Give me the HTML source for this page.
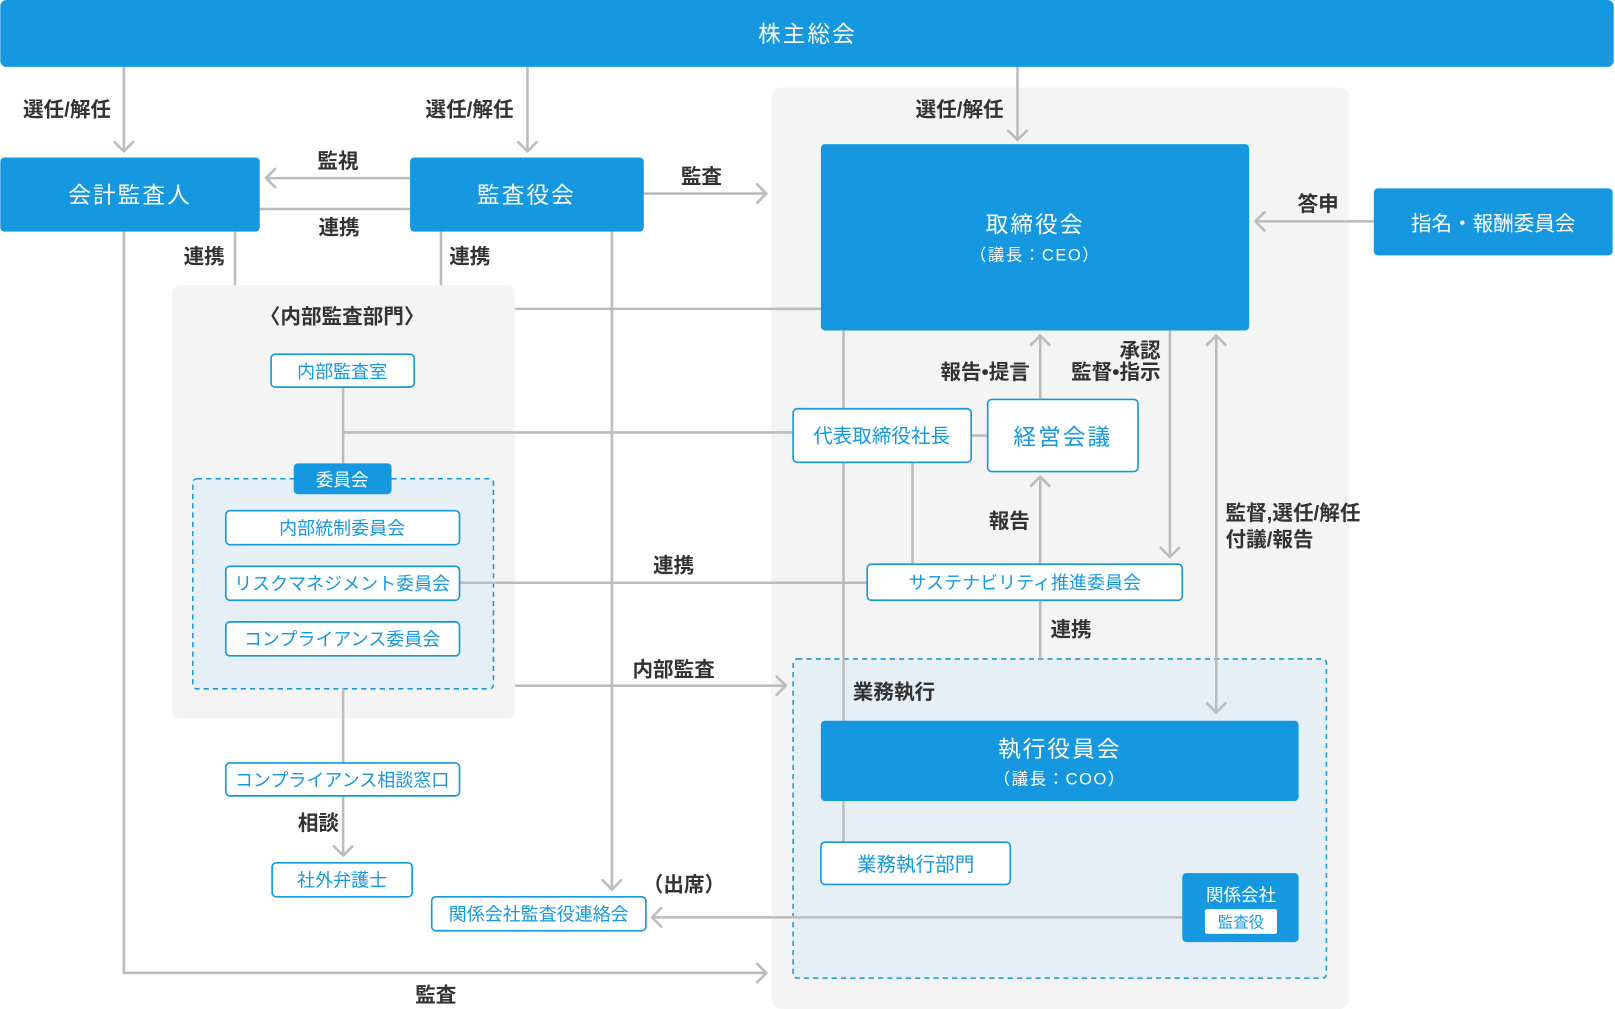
<!DOCTYPE html>
<html><head><meta charset="utf-8"><style>
html,body{margin:0;padding:0;background:#fff;}
svg{display:block;}
text{font-family:"Liberation Sans","Noto Sans CJK JP",sans-serif;}
.lb{fill:#333;font-size:20px;font-weight:bold;}
.w{fill:#fff;}
.bt{fill:#1598df;}
.ln{stroke:#bcbcbc;stroke-width:2.5;fill:none;}
.ar{stroke:#bcbcbc;stroke-width:2.5;fill:none;stroke-linecap:round;stroke-linejoin:round;}
.wb{fill:#fff;stroke:#1598df;stroke-width:1.6;}
</style></head><body>
<svg width="1615" height="1009" viewBox="0 0 1568 980" xmlns="http://www.w3.org/2000/svg">
<rect x="749" y="85" width="561" height="895" rx="10" fill="#f4f4f4"/>
<rect x="167" y="277" width="333" height="421" rx="8" fill="#f4f4f4"/>
<rect x="187" y="465" width="292" height="204" rx="4" fill="#e7eff6" stroke="#1598df" stroke-width="1.5" stroke-dasharray="5,4"/>
<rect x="770" y="640" width="518" height="310" rx="4" fill="#e7eff6" stroke="#1598df" stroke-width="1.5" stroke-dasharray="5,4"/>

<g class="ln">
<line x1="120" y1="65" x2="120" y2="147"/>
<line x1="512" y1="65" x2="512" y2="147"/>
<line x1="988" y1="65" x2="988" y2="136"/>
<line x1="398" y1="173" x2="258" y2="173"/>
<line x1="252" y1="203" x2="398" y2="203"/>
<line x1="625" y1="188" x2="744" y2="188"/>
<line x1="1334" y1="215" x2="1219" y2="215"/>
<line x1="228" y1="225" x2="228" y2="277"/>
<line x1="428" y1="225" x2="428" y2="277"/>
<line x1="500" y1="300" x2="797" y2="300"/>
<line x1="594" y1="225" x2="594" y2="864"/>
<line x1="819" y1="321" x2="819" y2="818"/>
<line x1="333" y1="376" x2="333" y2="450"/>
<line x1="333" y1="420" x2="770" y2="420"/>
<line x1="943" y1="423" x2="959" y2="423"/>
<line x1="1010" y1="388" x2="1010" y2="326"/>
<line x1="1136" y1="321" x2="1136" y2="541"/>
<line x1="1181" y1="326" x2="1181" y2="692"/>
<line x1="886" y1="449" x2="886" y2="548"/>
<line x1="1010" y1="548" x2="1010" y2="463"/>
<line x1="1010" y1="583" x2="1010" y2="640"/>
<line x1="446" y1="566" x2="842" y2="566"/>
<line x1="500" y1="666" x2="763" y2="666"/>
<line x1="333" y1="669" x2="333" y2="741"/>
<line x1="333" y1="773" x2="333" y2="831"/>
<line x1="1148" y1="891" x2="633" y2="891"/>
<polyline points="120,225 120,945 744,945"/>
</g>
<g class="ar">
<polyline points="111,138 120,147 129,138"/>
<polyline points="503,138 512,147 521,138"/>
<polyline points="979,127 988,136 997,127"/>
<polyline points="267,164 258,173 267,182"/>
<polyline points="735,179 744,188 735,197"/>
<polyline points="1228,206 1219,215 1228,224"/>
<polyline points="585,855 594,864 603,855"/>
<polyline points="1001,335 1010,326 1019,335"/>
<polyline points="1127,532 1136,541 1145,532"/>
<polyline points="1172,335 1181,326 1190,335"/>
<polyline points="1172,683 1181,692 1190,683"/>
<polyline points="1001,472 1010,463 1019,472"/>
<polyline points="754,657 763,666 754,675"/>
<polyline points="324,822 333,831 342,822"/>
<polyline points="642,882 633,891 642,900"/>
<polyline points="735,936 744,945 735,954"/>
</g>

<rect x="0" y="0" width="1567" height="65" rx="6" class="bt"/>
<text x="784" y="41" text-anchor="middle" class="w" font-size="22" letter-spacing="2">株主総会</text>
<rect x="0" y="153" width="252" height="72" rx="4" class="bt"/>
<text x="126" y="197" text-anchor="middle" class="w" font-size="22" letter-spacing="2">会計監査人</text>
<rect x="398" y="153" width="227" height="72" rx="4" class="bt"/>
<text x="511" y="197" text-anchor="middle" class="w" font-size="22" letter-spacing="2">監査役会</text>
<rect x="797" y="140" width="416" height="181" rx="4" class="bt"/>
<text x="1005" y="226" text-anchor="middle" class="w" font-size="22" letter-spacing="2">取締役会</text>
<text x="1005" y="253" text-anchor="middle" class="w" font-size="16" letter-spacing="1.5">（議長：CEO）</text>
<rect x="1334" y="183" width="232" height="65" rx="4" class="bt"/>
<text x="1450" y="224" text-anchor="middle" class="w" font-size="20">指名・報酬委員会</text>
<rect x="797" y="700" width="464" height="78" rx="4" class="bt"/>
<text x="1029" y="735" text-anchor="middle" class="w" font-size="22" letter-spacing="2">執行役員会</text>
<text x="1029" y="762" text-anchor="middle" class="w" font-size="16" letter-spacing="1.5">（議長：COO）</text>
<rect x="1148" y="848" width="113" height="67" rx="4" class="bt"/>
<text x="1205" y="875" text-anchor="middle" class="w" font-size="17">関係会社</text>
<rect x="1170" y="883" width="70" height="24" rx="2" fill="#fff"/>
<text x="1205" y="901" text-anchor="middle" class="bt" font-size="15">監査役</text>
<rect x="285" y="450" width="95" height="30" rx="4" class="bt"/>
<text x="332" y="472" text-anchor="middle" class="w" font-size="17">委員会</text>

<g font-size="17.5">
<rect x="263" y="344" width="139" height="32" rx="4" class="wb"/>
<text x="332" y="367" text-anchor="middle" class="bt">内部監査室</text>
<rect x="219" y="496" width="227" height="33" rx="4" class="wb"/>
<text x="332" y="519" text-anchor="middle" class="bt">内部統制委員会</text>
<rect x="219" y="550" width="227" height="33" rx="4" class="wb"/>
<text x="332" y="573" text-anchor="middle" class="bt">リスクマネジメント委員会</text>
<rect x="219" y="604" width="227" height="33" rx="4" class="wb"/>
<text x="332" y="627" text-anchor="middle" class="bt">コンプライアンス委員会</text>
<rect x="219" y="741" width="227" height="32" rx="4" class="wb"/>
<text x="332" y="764" text-anchor="middle" class="bt">コンプライアンス相談窓口</text>
<rect x="264" y="838" width="136" height="33" rx="4" class="wb"/>
<text x="332" y="861" text-anchor="middle" class="bt">社外弁護士</text>
<rect x="419" y="871" width="208" height="33" rx="4" class="wb"/>
<text x="523" y="894" text-anchor="middle" class="bt">関係会社監査役連絡会</text>
<rect x="842" y="548" width="306" height="35" rx="4" class="wb"/>
<text x="995" y="572" text-anchor="middle" class="bt">サステナビリティ推進委員会</text>
</g>
<rect x="770" y="397" width="173" height="52" rx="4" class="wb"/>
<text x="856" y="430" text-anchor="middle" class="bt" font-size="19">代表取締役社長</text>
<rect x="959" y="388" width="146" height="70" rx="4" class="wb"/>
<text x="1032" y="432" text-anchor="middle" class="bt" font-size="22" letter-spacing="2">経営会議</text>
<rect x="797" y="818" width="184" height="41" rx="4" class="wb"/>
<text x="889" y="846" text-anchor="middle" class="bt" font-size="19">業務執行部門</text>

<g class="lb">
<text x="22" y="113">選任/解任</text>
<text x="413" y="113">選任/解任</text>
<text x="889" y="113">選任/解任</text>
<text x="308" y="163">監視</text>
<text x="309" y="228">連携</text>
<text x="661" y="178">監査</text>
<text x="1260" y="205">答申</text>
<text x="178" y="256">連携</text>
<text x="436" y="256">連携</text>
<text x="332" y="314" text-anchor="middle">〈内部監査部門〉</text>
<text x="1000" y="368" text-anchor="end">報告•提言</text>
<text x="1127" y="347" text-anchor="end">承認</text>
<text x="1127" y="368" text-anchor="end">監督•指示</text>
<text x="1190" y="505">監督,選任/解任</text>
<text x="1190" y="531">付議/報告</text>
<text x="960" y="513">報告</text>
<text x="634" y="556">連携</text>
<text x="1020" y="618">連携</text>
<text x="614" y="657">内部監査</text>
<text x="828" y="679">業務執行</text>
<text x="289" y="806">相談</text>
<text x="624" y="866">（出席）</text>
<text x="403" y="973">監査</text>
</g>
</svg>
</body></html>
